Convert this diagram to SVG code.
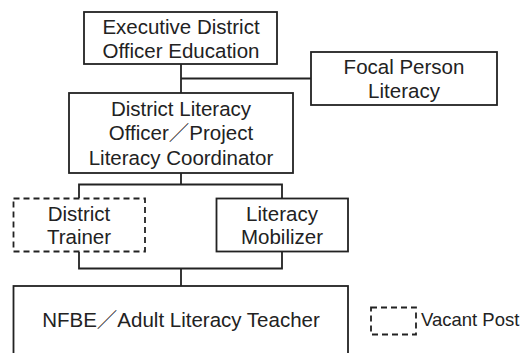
<svg xmlns="http://www.w3.org/2000/svg" width="520" height="353" viewBox="0 0 520 353">
  <style>
    .box { fill: #ffffff; stroke: #222222; stroke-width: 1.8; }
    .vacant { stroke-dasharray: 6 4; }
    .link { fill: none; stroke: #222222; stroke-width: 1.8; }
    text { font-family: "Liberation Sans", Arial, "Noto Sans CJK JP", sans-serif; font-size: 20.5px; fill: #222222; text-anchor: middle; }
    .legend { font-size: 18.5px; text-anchor: start; }
  </style>
  <rect width="520" height="353" fill="#ffffff"/>

  <!-- reporting lines -->
  <g id="connectors">
    <path class="link" d="M181 64 V93"/>
    <path class="link" d="M181 78.5 H311"/>
    <path class="link" d="M181 173 V184.5 M79 198 V184.5 H282 V198"/>
    <path class="link" d="M79 252 V268.5 H282 V252 M181 268.5 V286"/>
  </g>

  <g id="executive-district-officer">
    <rect class="box" x="84" y="12" width="193" height="52"/>
    <text x="181" y="34">Executive District</text>
    <text x="181" y="58">Officer Education</text>
  </g>

  <g id="focal-person">
    <rect class="box" x="311" y="52" width="186" height="53"/>
    <text x="404" y="74">Focal Person</text>
    <text x="404" y="97.5">Literacy</text>
  </g>

  <g id="district-literacy-officer">
    <rect class="box" x="69" y="93" width="224" height="80"/>
    <text x="181" y="115.5">District Literacy</text>
    <text x="181" y="140">Officer／Project</text>
    <text x="181" y="165">Literacy Coordinator</text>
  </g>

  <g id="district-trainer">
    <rect class="box vacant" x="13.5" y="198.5" width="131.5" height="53"/>
    <text x="79" y="221">District</text>
    <text x="79" y="244">Trainer</text>
  </g>

  <g id="literacy-mobilizer">
    <rect class="box" x="216.5" y="198.5" width="131.5" height="53"/>
    <text x="282" y="221">Literacy</text>
    <text x="282" y="244">Mobilizer</text>
  </g>

  <g id="adult-literacy-teacher">
    <rect class="box" x="13.5" y="286" width="334.5" height="90"/>
    <text x="181" y="327">NFBE／Adult Literacy Teacher</text>
  </g>

  <g id="legend">
    <rect class="box vacant" x="371" y="307.5" width="45" height="27"/>
    <text class="legend" x="421" y="326">Vacant Post</text>
  </g>
</svg>
